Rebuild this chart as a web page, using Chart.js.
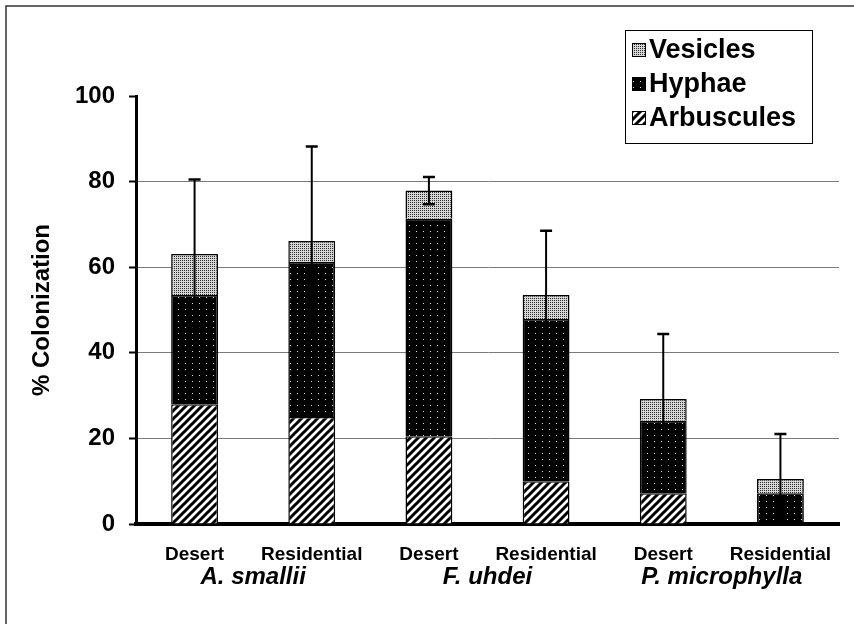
<!DOCTYPE html>
<html><head><meta charset="utf-8">
<script src="https://cdn.jsdelivr.net/npm/chart.js@4.4.1/dist/chart.umd.min.js"></script>
<style>html,body{margin:0;padding:0;background:#fff}canvas{display:block}</style>
</head><body>
<canvas id="c" width="854" height="624"></canvas>
<script>
const categories = ['Desert', 'Residential', 'Desert', 'Residential', 'Desert', 'Residential'];
const species = ['A. smallii', 'F. uhdei', 'P. microphylla'];
const arbuscules = [28, 25, 20.5, 10, 7.2, 0];
const hyphae = [25.5, 36.2, 50.8, 37.9, 16.9, 7.2];
const vesicles = [9.6, 4.9, 6.6, 5.6, 5.1, 3.3];
const errors = [17.4, 22.1, 3.2, 15.0, 15.2, 10.5];
const yMin = 0, yMax = 100, yStep = 20;

const FONT = '"Liberation Sans", Arial, Helvetica, sans-serif';
const canvas = document.getElementById('c');
const ctx = canvas.getContext('2d');

function makePattern(w, h, draw) {
  const c = document.createElement('canvas');
  c.width = w; c.height = h;
  const g = c.getContext('2d');
  draw(g, w, h);
  return ctx.createPattern(c, 'repeat');
}
const hatchPattern = makePattern(8, 8, (g, w, h) => {
  g.fillStyle = '#fff'; g.fillRect(0, 0, w, h);
  g.strokeStyle = '#000'; g.lineWidth = 3;
  g.beginPath();
  g.moveTo(-2, 10); g.lineTo(10, -2);
  g.moveTo(-6, 6); g.lineTo(6, -6);
  g.moveTo(2, 14); g.lineTo(14, 2);
  g.stroke();
});
const hyphaePattern = makePattern(7, 6, (g, w, h) => {
  g.fillStyle = '#000'; g.fillRect(0, 0, w, h);
  g.fillStyle = '#e0e0e0'; g.fillRect(3, 3, 1, 1);
});
const vesiclePattern = makePattern(2, 2, (g, w, h) => {
  g.fillStyle = '#d6d6d6'; g.fillRect(0, 0, w, h);
  g.fillStyle = '#2e2e2e';
  g.fillRect(0, 0, 1, 1);
});

const framePlugin = {
  id: 'frame',
  beforeDraw(chart) {
    const c = chart.ctx;
    c.save();
    c.fillStyle = '#fff';
    c.fillRect(0, 0, chart.width, chart.height);
    c.strokeStyle = '#333'; c.lineWidth = 1.5;
    c.beginPath();
    c.moveTo(6, chart.height); c.lineTo(6, 6); c.lineTo(chart.width, 6);
    c.stroke();
    c.restore();
  }
};

const errorPlugin = {
  id: 'errbars',
  afterDatasetsDraw(chart) {
    const c = chart.ctx, xs = chart.scales.x, ys = chart.scales.y;
    c.save();
    c.strokeStyle = '#000';
    for (let i = 0; i < categories.length; i++) {
      const total = arbuscules[i] + hyphae[i] + vesicles[i];
      const x = xs.getPixelForValue(i);
      const yt = ys.getPixelForValue(total + errors[i]);
      const yb = ys.getPixelForValue(Math.max(0, total - errors[i]));
      c.lineWidth = 2;
      c.beginPath(); c.moveTo(x, yb); c.lineTo(x, yt); c.stroke();
      c.lineWidth = 2.5;
      c.beginPath();
      c.moveTo(x - 6, yt); c.lineTo(x + 6, yt);
      c.moveTo(x - 6, yb); c.lineTo(x + 6, yb);
      c.stroke();
    }
    c.restore();
  }
};

const speciesPlugin = {
  id: 'species',
  afterDraw(chart) {
    const c = chart.ctx, xs = chart.scales.x;
    c.save();
    c.fillStyle = '#000';
    c.font = 'italic bold 24px ' + FONT;
    c.textAlign = 'center'; c.textBaseline = 'middle';
    species.forEach((s, k) => {
      const x = (xs.getPixelForValue(2 * k) + xs.getPixelForValue(2 * k + 1)) / 2;
      c.fillText(s, x, 577);
    });
    c.restore();
  }
};

const legendPlugin = {
  id: 'customLegend',
  afterDraw(chart) {
    const c = chart.ctx;
    c.save();
    c.strokeStyle = '#000'; c.lineWidth = 1;
    c.strokeRect(625.5, 30.5, 187, 113);
    const ds = chart.data.datasets.slice().reverse();
    const ys = [50, 84, 118];
    c.font = 'bold 27px ' + FONT;
    c.textBaseline = 'middle'; c.textAlign = 'left';
    ds.forEach((d, k) => {
      const y = ys[k];
      c.fillStyle = d.backgroundColor;
      c.fillRect(632, y - 7, 14, 14);
      c.lineWidth = 1; c.strokeStyle = '#000';
      c.strokeRect(632.5, y - 6.5, 13, 13);
      c.fillStyle = '#000';
      c.fillText(d.label, 649, y + 1);
    });
    c.restore();
  }
};

const common = { borderColor: '#000', borderWidth: 1.5, barPercentage: 0.4, categoryPercentage: 1.0 };

new Chart(ctx, {
  type: 'bar',
  data: {
    labels: categories,
    datasets: [
      Object.assign({ label: 'Arbuscules', data: arbuscules, backgroundColor: hatchPattern }, common),
      Object.assign({ label: 'Hyphae', data: hyphae, backgroundColor: hyphaePattern }, common),
      Object.assign({ label: 'Vesicles', data: vesicles, backgroundColor: vesiclePattern }, common)
    ]
  },
  options: {
    responsive: false,
    animation: false,
    devicePixelRatio: 1,
    layout: { padding: { top: 96, right: 15, left: 0, bottom: 0 } },
    plugins: { legend: { display: false }, tooltip: { enabled: false } },
    scales: {
      x: {
        stacked: true,
        grid: { display: false },
        border: { display: true, color: '#000', width: 4 },
        ticks: { color: '#000', font: { family: FONT, weight: 'bold', size: 19 }, padding: 11, maxRotation: 0, autoSkip: false },
        afterFit(s) { s.height = 100; }
      },
      y: {
        stacked: true,
        min: yMin, max: yMax,
        ticks: { stepSize: yStep, color: '#000', font: { family: FONT, weight: 'bold', size: 24 }, padding: 14 },
        grid: {
          color: (c) => (c.tick && (c.tick.value === yMax || c.tick.value === yMin)) ? 'rgba(0,0,0,0)' : '#7a7a7a',
          lineWidth: 1,
          tickColor: '#000', tickWidth: 2, tickLength: 7
        },
        border: { display: true, color: '#000', width: 3 },
        title: { display: true, text: '% Colonization', color: '#000', font: { family: FONT, weight: 'bold', size: 24 }, padding: { top: 28, bottom: 0 } },
        afterFit(s) { s.width = 136; }
      }
    }
  },
  plugins: [framePlugin, errorPlugin, speciesPlugin, legendPlugin]
});
</script>
</body></html>
